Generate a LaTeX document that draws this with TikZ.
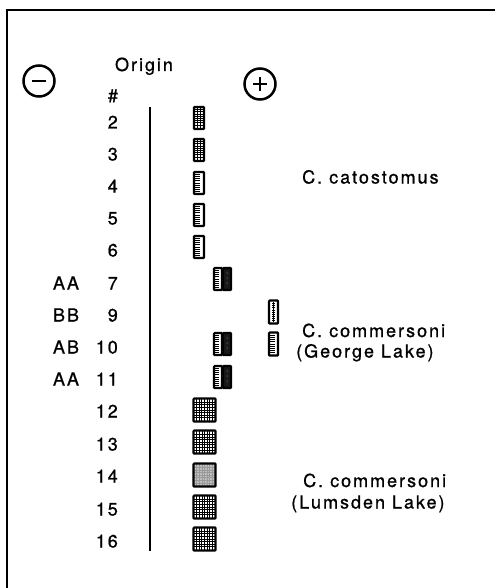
\documentclass[tikz,border=0pt]{standalone}
\usepackage{fontspec}
\setmainfont{TeX Gyre Heros}[LetterSpace=11, FakeBold=0.9]

% pixel-like grid: x to the right, y downwards
\tikzset{
  txt/.style={inner sep=0pt, font=\fontsize{18}{21}\selectfont},
  num/.style={txt, anchor=base east},
  geno/.style={txt, anchor=base},
  species/.style={txt, anchor=base west},
  sign/.style={draw, circle, line width=2.5pt, minimum size=31pt, inner sep=0pt},
  gel/.style={draw=black, line width=2.2pt, fill=white, inner sep=0pt, rounded corners=0.8pt},
  slim/.style={gel, minimum width=10pt, minimum height=22pt},
  half/.style={gel, minimum width=8pt, minimum height=22pt},
  tall/.style={gel, minimum width=9pt, minimum height=23pt},
  wide/.style={gel, minimum width=22pt, minimum height=23pt},
  gelhatch/.style={path picture={
    \begin{scope}[shift={(path picture bounding box.center)}]
      \draw[line width=0.9pt] (-1.4,-10) -- (-1.4,10) (1.4,-10) -- (1.4,10);
      \foreach \t in {-8.4,-6.2,...,8.6} \draw[line width=0.8pt] (-5,\t) -- (5,\t);
    \end{scope}}},
  gelladder/.style={path picture={
    \begin{scope}[shift={(path picture bounding box.center)}]
      \foreach \t in {-8.4,-6.3,...,8.6} \draw[line width=0.9pt] (-5,\t) -- (1.2,\t);
    \end{scope}}},
  gelspine/.style={path picture={
    \begin{scope}[shift={(path picture bounding box.center)}]
      \draw[line width=0.8pt] (0,-10) -- (0,10);
      \foreach \t in {-8.4,-6.3,...,8.6} \draw[line width=0.8pt] (-1.6,\t) -- (1.6,\t);
    \end{scope}}},
  geldark/.style={fill=black!90, path picture={
    \begin{scope}[shift={(path picture bounding box.center)}]
      \foreach \t in {-6,-1,4} \fill[white!70!black] (0,\t) circle (0.5);
    \end{scope}}},
  gelmesh/.style={path picture={
    \begin{scope}[shift={(path picture bounding box.center)}]
      \foreach \t in {-7.8,-5.2,...,8} {
        \draw[line width=#1] (\t,-12) -- (\t,12);
        \draw[line width=#1] (-12,\t) -- (12,\t);
      }
    \end{scope}}},
  gelpale/.style={fill=black!25, path picture={
    \begin{scope}[shift={(path picture bounding box.center)}]
      \foreach \t in {-7.8,-5.2,...,8} {
        \draw[line width=0.5pt, black!40] (\t,-12) -- (\t,12);
        \draw[line width=0.5pt, black!40] (-12,\t) -- (12,\t);
      }
    \end{scope}}},
}

\begin{document}
\begin{tikzpicture}[x=1pt, y=-1pt]
  \useasboundingbox (0,0) rectangle (495,588);

  % frame (top and left edges)
  \coordinate (frameA) at (7,588);
  \coordinate (frameB) at (7,10);
  \coordinate (frameC) at (495,10);
  \draw[line width=2.6pt, line join=miter] (frameA) -- (frameB) -- (frameC);

  % header
  \node[sign, path picture={\draw[line width=2.4pt, shift={(path picture bounding box.center)}] (-7,0) -- (7,0);}] (minus) at (39,81) {};
  \node[sign, path picture={\draw[line width=2.4pt, shift={(path picture bounding box.center)}] (-7,0) -- (7,0) (0,-7) -- (0,7);}] (plus) at (260,84) {};
  \node[txt, anchor=base] (origin) at (144,71) {Origin};
  \node[txt, anchor=base] (hash) at (113,102) {\#};

  % origin line
  \coordinate (otop) at (150,107);
  \coordinate (obot) at (150,551);
  \draw[line width=2.2pt] (otop) -- (obot);

  % sample numbers
  \foreach \n/\cy in {2/122,3/154,4/186,5/218,6/250,7/283,9/315,10/347,11/379,12/411,13/444,14/476,15/509,16/541}
    \node[num] (n\n) at (118,\cy+6.5) {\n};

  % genotypes
  \node[geno] (gt7)  at (66,289.5) {AA};
  \node[geno] (gt9)  at (66,321.5) {BB};
  \node[geno] (gt10) at (66,353.5) {AB};
  \node[geno] (gt11) at (66,385.5) {AA};

  % C. catostomus bands
  \node[slim, gelhatch]  (b2) at (199,118) {};
  \node[slim, gelhatch]  (b3) at (199,150) {};
  \node[slim, gelladder] (b4) at (199,183) {};
  \node[slim, gelladder] (b5) at (199,215) {};
  \node[slim, gelladder] (b6) at (199,247) {};

  % C. commersoni (George Lake) bands
  \node[half, gelladder] (b7a) at (218,279) {};
  \node[half, geldark]   (b7b) at (227,279) {};
  \node[tall, gelspine]  (b9)  at (273.5,312) {};
  \node[half, gelladder] (b10a) at (218,344) {};
  \node[half, geldark]   (b10b) at (227,344) {};
  \node[tall, gelladder] (b10c) at (273.5,344) {};
  \node[half, gelladder] (b11a) at (218,377) {};
  \node[half, geldark]   (b11b) at (227,377) {};

  % C. commersoni (Lumsden Lake) bands
  \node[wide, gelmesh=0.9pt] (b12) at (204.5,410) {};
  \node[wide, gelmesh=0.6pt] (b13) at (204.5,442) {};
  \node[wide, gelpale]       (b14) at (204.5,475) {};
  \node[wide, gelmesh=0.8pt] (b15) at (204.5,507) {};
  \node[wide, gelmesh=1pt]   (b16) at (204.5,539) {};

  % species labels
  \node[species] (cat)  at (302,183.5) {C. catostomus};
  \node[species] (comG) at (302,337) {C. commersoni};
  \node[species] (geo)  at (296,357.5) {(George Lake)};
  \node[species] (comL) at (303,487) {C. commersoni};
  \node[species] (lum)  at (291,508.5) {(Lumsden Lake)};
\end{tikzpicture}
\end{document}
